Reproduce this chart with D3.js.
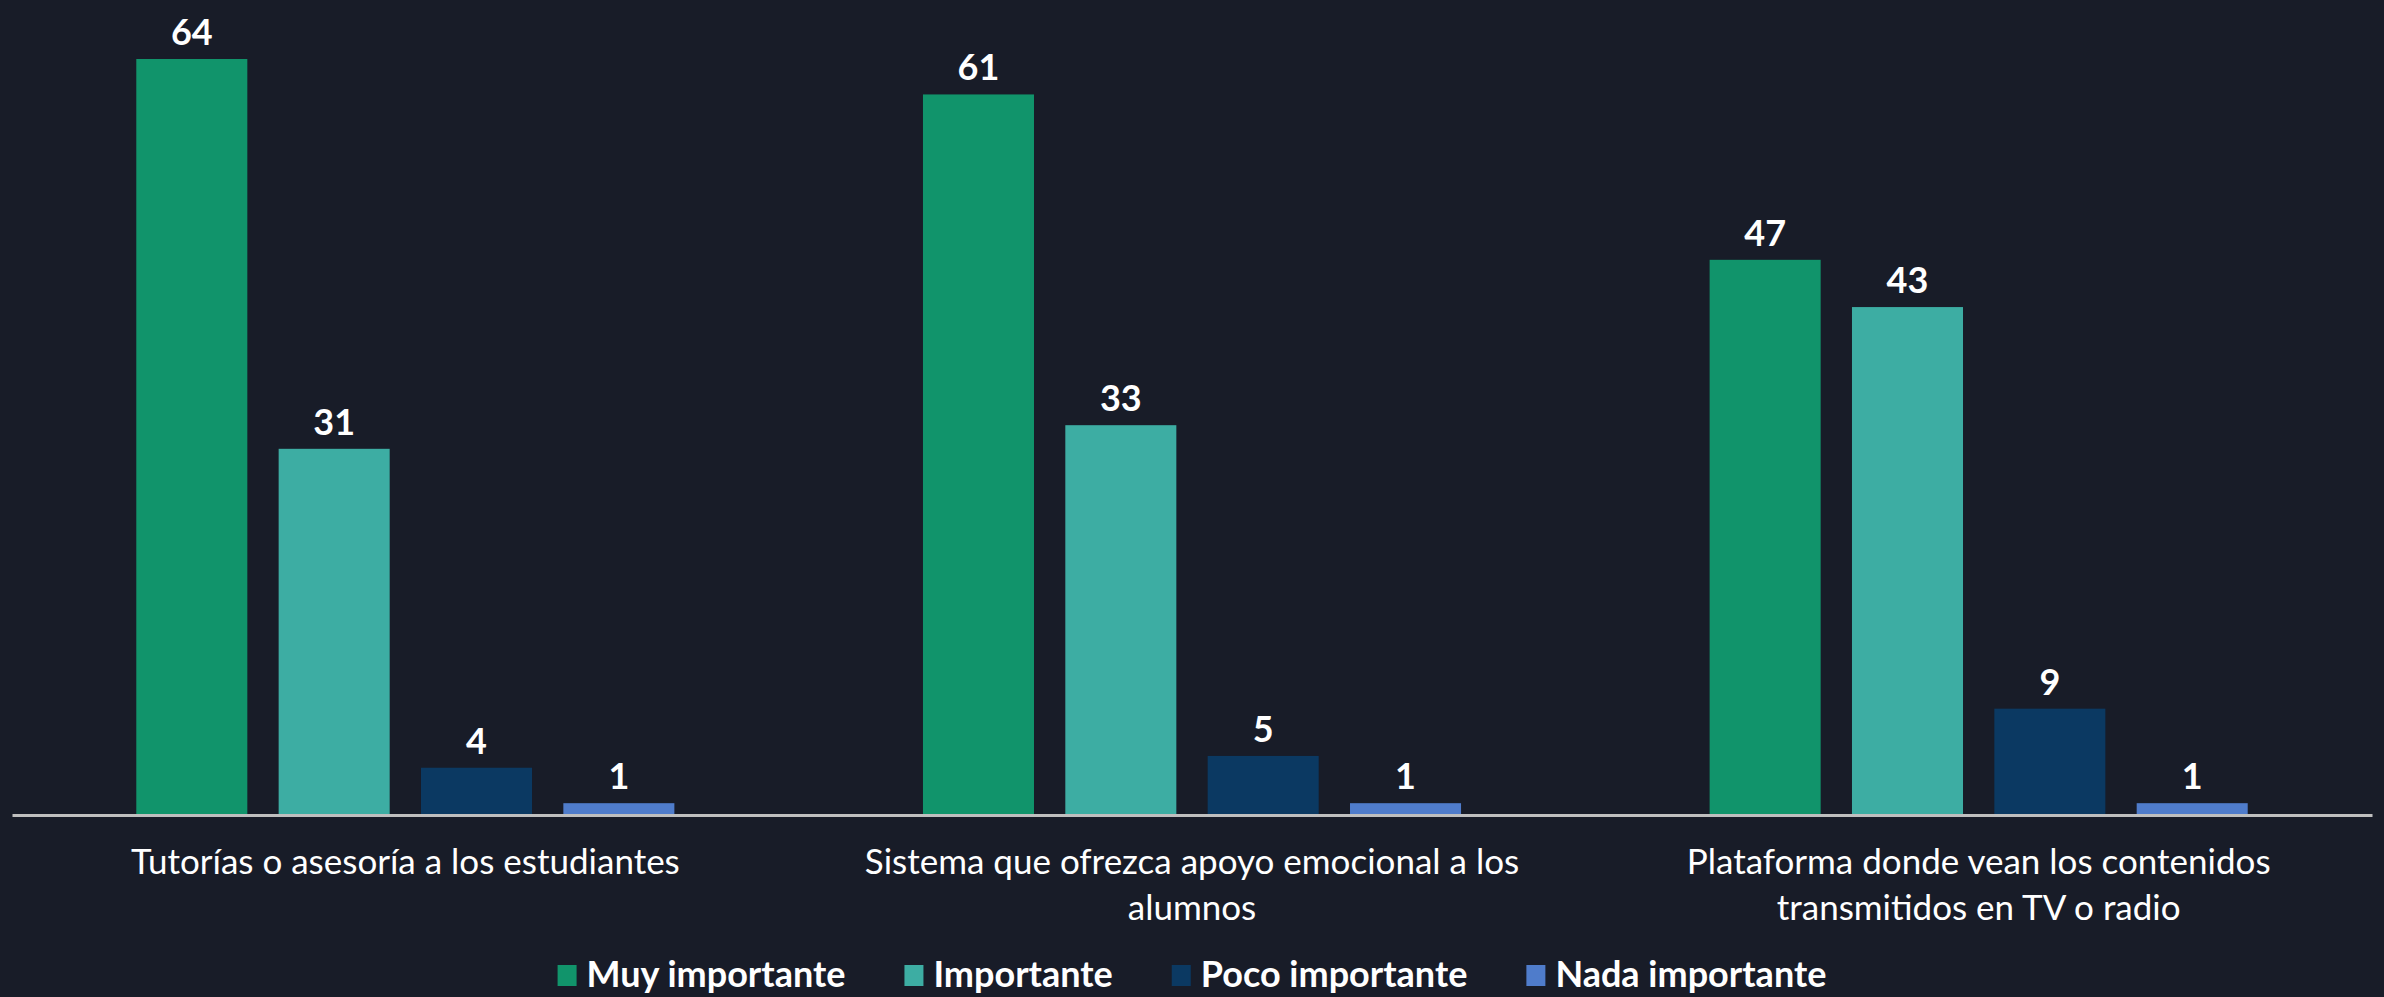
<!DOCTYPE html>
<html>
<head>
<meta charset="utf-8">
<script src="https://cdn.jsdelivr.net/npm/d3@7"></script>
<style>
  html, body { margin: 0; padding: 0; background: #181c28; }
  svg { display: block; font-family: Lato, "Open Sans", sans-serif; }
</style>
</head>
<body>
<svg id="chart" width="2384" height="997"></svg>
<script>
// categories and series
const categories = [
  "Tutorías o asesoría a los estudiantes",
  "Sistema que ofrezca apoyo emocional a los alumnos",
  "Plataforma donde vean los contenidos transmitidos en TV o radio"
];
const seriesNames = ["Muy importante", "Importante", "Poco importante", "Nada importante"];
const seriesColors = ["#11946b", "#3dada3", "#0b3962", "#4f7ccb"];

// values per series, in category order
const muyImportante = [64, 61, 47];
const importante = [31, 33, 43];
const pocoImportante = [4, 5, 9];
const nadaImportante = [1, 1, 1];

const seriesValues = [muyImportante, importante, pocoImportante, nadaImportante];

const width = 2384;
const height = 997;
const margin = { left: 12, right: 12 };
const baseY = 815;
const topY = 59;

const svg = d3.select("#chart");

svg.append("rect")
  .attr("width", width)
  .attr("height", height)
  .attr("fill", "#181c28");

// build rows for drawing
const rows = [];
categories.forEach((c, ci) => {
  seriesNames.forEach((s, si) => {
    rows.push({ category: c, series: s, value: seriesValues[si][ci] });
  });
});

const x0 = d3.scaleBand()
  .domain(categories)
  .range([margin.left, width - margin.right])
  .paddingInner(0.316)
  .paddingOuter(0.158);

const x1 = d3.scaleBand()
  .domain(seriesNames)
  .range([0, x0.bandwidth()])
  .paddingInner(0.22);

const y = d3.scaleLinear()
  .domain([0, d3.max(rows, (d) => d.value)])
  .range([baseY, topY]);

const color = d3.scaleOrdinal().domain(seriesNames).range(seriesColors);

// bars
svg.append("g")
  .selectAll("rect")
  .data(rows)
  .enter()
  .append("rect")
  .attr("x", (d) => x0(d.category) + x1(d.series))
  .attr("y", (d) => y(d.value))
  .attr("width", x1.bandwidth())
  .attr("height", (d) => baseY - y(d.value))
  .attr("fill", (d) => color(d.series));

// value labels
svg.append("g")
  .selectAll("text")
  .data(rows)
  .enter()
  .append("text")
  .attr("x", (d) => x0(d.category) + x1(d.series) + x1.bandwidth() / 2)
  .attr("y", (d) => y(d.value) - 14)
  .attr("text-anchor", "middle")
  .attr("fill", "#ffffff")
  .attr("font-size", 36)
  .attr("font-weight", 700)
  .text((d) => d.value);

// x axis
const axis = svg.append("g")
  .attr("transform", `translate(0,${baseY})`)
  .call(d3.axisBottom(x0).tickSize(0).tickSizeOuter(0));

axis.select(".domain")
  .attr("stroke", "#bfbfbf")
  .attr("stroke-width", 3);

axis.selectAll(".tick text")
  .attr("fill", "#ffffff")
  .attr("font-size", 35)
  .attr("font-family", "Lato, sans-serif")
  .attr("font-weight", 400)
  .attr("y", 59)
  .attr("dy", 0)
  .call(wrap, x0.step() * 0.9);

function wrap(text, maxWidth) {
  text.each(function () {
    const t = d3.select(this);
    const words = t.text().split(/\s+/);
    const yPos = t.attr("y");
    t.text(null);
    let line = [];
    let lineNo = 0;
    let tspan = t.append("tspan").attr("x", 0).attr("y", yPos);
    words.forEach((w) => {
      line.push(w);
      tspan.text(line.join(" "));
      if (tspan.node().getComputedTextLength() > maxWidth && line.length > 1) {
        line.pop();
        tspan.text(line.join(" "));
        line = [w];
        lineNo++;
        tspan = t.append("tspan")
          .attr("x", 0)
          .attr("y", +yPos + lineNo * 46)
          .text(w);
      }
    });
  });
}

// legend
const legend = svg.append("g");
let lx = 0;
seriesNames.forEach((s) => {
  const item = legend.append("g").attr("transform", `translate(${lx},0)`);
  item.append("rect")
    .attr("x", 0)
    .attr("y", -10)
    .attr("width", 19)
    .attr("height", 21)
    .attr("fill", color(s));
  const txt = item.append("text")
    .attr("x", 29)
    .attr("y", 12)
    .attr("fill", "#ffffff")
    .attr("font-size", 36)
    .attr("font-weight", 700)
    .text(s);
  lx += 29 + txt.node().getComputedTextLength() + 59;
});
const legendWidth = lx - 59;
legend.attr("transform", `translate(${width / 2 - legendWidth / 2},${975})`);
</script>
</body>
</html>
